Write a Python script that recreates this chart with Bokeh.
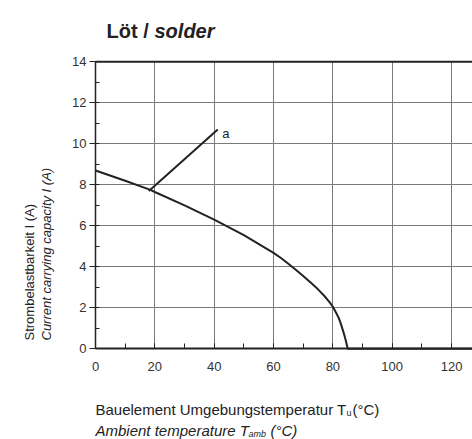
import math
from bokeh.plotting import figure
from bokeh.models import Range1d, Label, FixedTicker
from bokeh.embed import file_html
from bokeh.resources import INLINE

# ---- data ----
temp = [0, 10, 18.5, 20, 30, 40, 50, 60, 62.5, 65, 67.5, 70, 72.5, 75, 77, 79, 80, 81,
        82, 82.5, 83.5, 84, 84.5, 85, 127.1]
current = [8.7, 8.2, 7.75, 7.65, 7.0, 6.3, 5.55, 4.68, 4.43, 4.15, 3.86, 3.55, 3.23, 2.9,
           2.6, 2.25, 2.05, 1.78, 1.5, 1.3, 0.85, 0.6, 0.32, 0.0, 0.0]
ann_x = [18, 41.2]
ann_y = [7.7, 10.7]
ann_label = "a"
x_ticks = [0, 20, 40, 60, 80, 100, 120]
x_minor = [0, 10, 20, 30, 40, 50, 60, 70, 80, 90, 100, 110, 120]
y_ticks = [0, 2, 4, 6, 8, 10, 12, 14]
y_minor = list(range(0, 15))
x_max = 127.1

FONT = "Liberation Sans"
INK = "#222222"
GRID = "#7a7a7a"

W, H = 472, 439
# page position of the data origin and pixels per data unit
PX0, PXU = 95.0, 2.967
PY0, PYU = 348.3, 20.5

p = figure(width=W, height=H, output_backend="svg", toolbar_location=None,
           x_range=Range1d(-PX0 / PXU, (W - PX0) / PXU),
           y_range=Range1d(-(H - PY0) / PYU, PY0 / PYU),
           min_border=0)
p.outline_line_color = None
p.background_fill_color = "white"
p.border_fill_color = "white"


def dx(page_x):
    return (page_x - PX0) / PXU


def dy(page_y):
    return (PY0 - page_y) / PYU


# grid (restricted to the data area)
p.xgrid.ticker = FixedTicker(ticks=x_ticks)
p.ygrid.ticker = FixedTicker(ticks=y_ticks)
gx, gy = p.xgrid[0], p.ygrid[0]
if "cross_bounds" in gx.properties():
    gx.bounds = (0, x_max)
    gx.cross_bounds = (y_ticks[0], y_ticks[-1])
    gy.bounds = (y_ticks[0], y_ticks[-1])
    gy.cross_bounds = (0, x_max)
    for g in (gx, gy):
        g.grid_line_color = GRID
        g.grid_line_width = 1
else:
    gx.visible = False
    gy.visible = False
    p.segment(x0=x_ticks[1:], y0=[y_ticks[0]] * (len(x_ticks) - 1),
              x1=x_ticks[1:], y1=[y_ticks[-1]] * (len(x_ticks) - 1),
              line_color=GRID, line_width=1)
    p.segment(x0=[0] * (len(y_ticks) - 2), y0=y_ticks[1:-1],
              x1=[x_max] * (len(y_ticks) - 2), y1=y_ticks[1:-1],
              line_color=GRID, line_width=1)

# axes, fixed at the data origin
xa = p.xaxis[0]
xa.fixed_location = 0
xa.bounds = (0, x_max)
xa.ticker = FixedTicker(ticks=x_ticks, minor_ticks=x_minor)
xa.axis_line_color = INK
xa.axis_line_width = 2
xa.major_tick_in = 5
xa.major_tick_out = 0
xa.minor_tick_in = 5
xa.minor_tick_out = 0
xa.major_tick_line_color = INK
xa.minor_tick_line_color = INK
xa.major_label_standoff = 13
xa.major_label_text_font = FONT
xa.major_label_text_font_size = "13px"
xa.major_label_text_color = "#333333"

ya = p.yaxis[0]
ya.fixed_location = 0
ya.bounds = (y_ticks[0], y_ticks[-1])
ya.ticker = FixedTicker(ticks=y_ticks, minor_ticks=y_minor)
ya.axis_line_color = INK
ya.axis_line_width = 1.5
ya.major_tick_in = 0
ya.major_tick_out = 6
ya.minor_tick_in = 4
ya.minor_tick_out = 0
ya.major_tick_line_color = INK
ya.minor_tick_line_color = INK
ya.major_label_standoff = 3
ya.major_label_text_font = FONT
ya.major_label_text_font_size = "13px"
ya.major_label_text_color = "#333333"

# top border of the chart area
p.line([0, x_max], [y_ticks[-1], y_ticks[-1]], line_color=INK, line_width=2)

# curve + annotation
p.line(temp, current, line_color=INK, line_width=2)
p.line(ann_x, ann_y, line_color=INK, line_width=2)
p.add_layout(Label(x=ann_x[1] + 1.5, y=ann_y[1] - 0.2, text=ann_label,
                   text_font=FONT, text_font_size="13px", text_color=INK,
                   text_baseline="middle"))


def lab(page_x, page_y, text, size=15, style="normal", angle=0.0):
    p.add_layout(Label(x=dx(page_x), y=dy(page_y), text=text, angle=angle,
                       text_font=FONT, text_font_size=f"{size}px",
                       text_font_style=style, text_color=INK,
                       text_align="left", text_baseline="alphabetic"))


# title
lab(106, 30, "Löt /", size=20, style="bold")
lab(154, 30, "solder", size=20, style="bold italic")

# x-axis title (two lines)
lab(95, 409, "Bauelement Umgebungstemperatur T")
lab(346, 412, "u", size=9)
lab(352, 409, "(°C)")
lab(95, 430, "Ambient temperature T", style="italic")
lab(248, 433, "amb", size=9, style="italic")
lab(270, 430, "(°C)", style="italic")

# y-axis title (two lines, rotated)
lab(29, 340, "Strombelastbarkeit I (A)", size=13, angle=math.pi / 2)
lab(46, 340, "Current carrying capacity I (A)", size=13, style="italic", angle=math.pi / 2)

open("out.html", "w").write(file_html(p, INLINE))
